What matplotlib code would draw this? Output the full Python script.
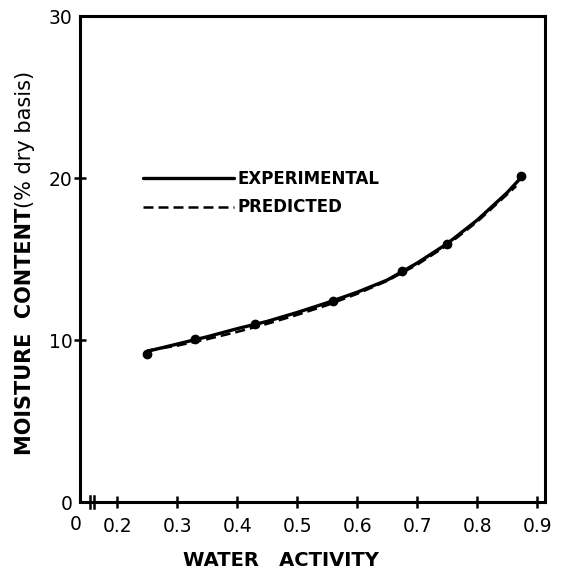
import matplotlib
matplotlib.use("Agg")
import matplotlib.pyplot as plt
import matplotlib.transforms as mtransforms

plt.rcParams['font.family'] = ['DejaVu Sans']

# experimental data points (markers)
aw_exp = [0.25, 0.33, 0.43, 0.56, 0.675, 0.75, 0.873]
mc_exp = [9.15, 10.05, 11.0, 12.4, 14.25, 15.95, 20.1]

# experimental curve
aw_curve = [0.25, 0.30, 0.35, 0.40, 0.45, 0.50, 0.55, 0.60, 0.65, 0.70, 0.75, 0.80, 0.85, 0.875]
mc_curve = [9.3, 9.75, 10.2, 10.7, 11.15, 11.7, 12.3, 12.95, 13.7, 14.75, 15.95, 17.4, 19.1, 20.1]

# predicted curve
aw_pred = [0.25, 0.30, 0.35, 0.40, 0.45, 0.50, 0.55, 0.60, 0.65, 0.70, 0.75, 0.80, 0.865]
mc_pred = [9.35, 9.65, 10.05, 10.5, 11.0, 11.55, 12.15, 12.85, 13.65, 14.65, 15.85, 17.3, 19.5]

xticks = [0.2, 0.3, 0.4, 0.5, 0.6, 0.7, 0.8, 0.9]
xticklabels = ['0.2', '0.3', '0.4', '0.5', '0.6', '0.7', '0.8', '0.9']
yticks = [0, 10, 20, 30]
yticklabels = ['0', '10', '20', '30']

W, H = 565, 578
fig = plt.figure(figsize=(W / 100, H / 100), dpi=100)
ax = fig.add_axes([80 / W, (H - 502) / H, 465 / W, 486 / H])

ax.plot(aw_curve, mc_curve, color='black', lw=2.4, solid_capstyle='round', label='EXPERIMENTAL')
ax.plot(aw_pred, mc_pred, color='black', lw=1.8, ls=(0, (4, 2)), label='PREDICTED')
ax.plot(aw_exp, mc_exp, 'o', color='black', ms=6)

ax.set_xlim(0.138, 0.913)
ax.set_ylim(0, 30)
ax.set_xticks(xticks)
ax.set_xticklabels(xticklabels, fontsize=13.5)
ax.set_yticks(yticks)
ax.set_yticklabels(yticklabels, fontsize=13.5)
ax.tick_params(axis='both', direction='inout', length=9, width=1.8)
ax.tick_params(axis='x', pad=6)
ax.tick_params(axis='y', pad=1)
for t in ax.yaxis.get_major_ticks():
    t.tick1line.set_visible(t.get_loc() in (10, 20))
for s in ax.spines.values():
    s.set_linewidth(2.2)

# broken axis marks and the "0" label
trans = mtransforms.blended_transform_factory(ax.transData, ax.transAxes)
for xb in [0.155, 0.161]:
    ax.plot([xb, xb], [-0.012, 0.012], color='black', lw=1.8, transform=trans, clip_on=False)
ax.text(0.13, -0.047, '0', transform=trans, ha='center', va='center', fontsize=13.5)

fig.text(281 / W, 1 - 560 / H, 'WATER   ACTIVITY', ha='center', va='center',
         fontsize=14, fontweight='bold')

# y label: bold part then regular part
t1 = fig.text(25 / W, 1 - 455 / H, 'MOISTURE  CONTENT', rotation=90,
              ha='center', va='bottom', fontsize=15, fontweight='bold')
fig.canvas.draw()
top = t1.get_window_extent().y1
fig.text(25 / W, top / H, '(% dry basis)', rotation=90,
         ha='center', va='bottom', fontsize=15)

ax.legend(loc='upper left', bbox_to_anchor=(0.135, 0.683), frameon=False,
          borderpad=0, borderaxespad=0,
          handlelength=5.5, handletextpad=0.18, labelspacing=0.62,
          prop={'size': 12, 'weight': 'bold'})

fig.savefig('out.png', dpi=100)
